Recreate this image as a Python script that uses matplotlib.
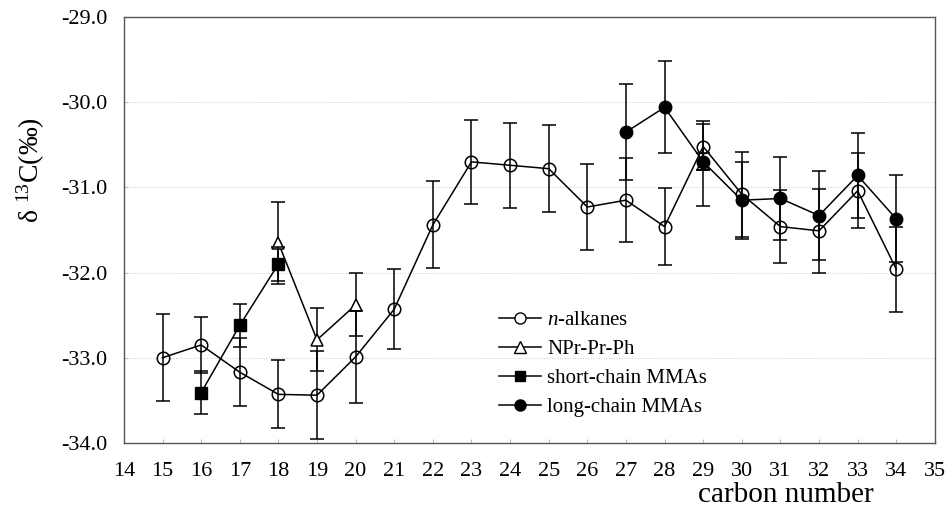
import numpy as np
import matplotlib
matplotlib.use('Agg')
import matplotlib.pyplot as plt
from matplotlib.lines import Line2D

plt.rcParams['font.family'] = ['Liberation Serif', 'DejaVu Serif']
plt.rcParams['mathtext.fontset'] = 'custom'
plt.rcParams['mathtext.rm'] = 'Liberation Serif'
plt.rcParams['mathtext.it'] = 'Liberation Serif:italic'

# n-alkanes
alk_c = [15, 16, 17, 18, 19, 20, 21, 22, 23, 24, 25, 26, 27, 28, 29, 30, 31, 32, 33, 34]
alk_v = [-33.00, -32.85, -33.17, -33.43, -33.44, -32.99, -32.43, -31.44, -30.70, -30.74,
         -30.78, -31.23, -31.15, -31.46, -30.52, -31.08, -31.46, -31.51, -31.04, -31.96]
alk_e = [0.51, 0.33, 0.40, 0.40, 0.52, 0.54, 0.47, 0.51, 0.49, 0.50,
         0.51, 0.50, 0.49, 0.45, 0.27, 0.50, 0.43, 0.49, 0.44, 0.50]
# NPr-Pr-Ph (gap between 20 and 29)
npr_c = [18, 19, 20, 21, 29]
npr_v = [-31.65, -32.79, -32.38, np.nan, -30.72]
npr_e = [0.48, 0.37, 0.37, np.nan, 0.50]
# short-chain MMAs
sc_c = [16, 17, 18]
sc_v = [-33.41, -32.62, -31.90]
sc_e = [0.25, 0.25, 0.20]
# long-chain MMAs
lc_c = [27, 28, 29, 30, 31, 32, 33, 34]
lc_v = [-30.35, -30.06, -30.70, -31.15, -31.13, -31.33, -30.86, -31.37]
lc_e = [0.56, 0.54, 0.10, 0.45, 0.49, 0.52, 0.50, 0.51]

fig = plt.figure(figsize=(9.53, 5.18), dpi=100)
ax = fig.add_axes([0.130, 0.145, 0.851, 0.822])

kw = dict(color='black', ecolor='black', elinewidth=1.1, capsize=5, capthick=1.1, lw=1.1)
ax.errorbar(npr_c, npr_v, yerr=npr_e, marker='^', ms=9, mfc='white', mec='black', mew=1.1,
            zorder=3, **kw)
ax.errorbar(sc_c, sc_v, yerr=sc_e, marker='s', ms=8, mfc='black', mec='black',
            zorder=4, **kw)
ax.errorbar(lc_c, lc_v, yerr=lc_e, marker='o', ms=9, mfc='black', mec='black',
            zorder=4, **kw)
ax.errorbar(alk_c, alk_v, yerr=alk_e, marker='o', ms=9, mfc='none', mec='black', mew=1.1,
            zorder=5, **kw)

ax.set_xlim(14, 35)
ax.set_ylim(-34, -29)
ax.set_xticks(range(14, 36))
ax.set_yticks(np.arange(-34, -28.9, 1.0))
ax.set_yticklabels(['%.1f' % v for v in np.arange(-34, -28.9, 1.0)])
ax.tick_params(axis='x', direction='in', length=3, color='#bbbbbb', labelsize=16, pad=14)
ax.tick_params(axis='y', direction='in', length=3, color='#bbbbbb', labelsize=16, pad=12)
ax.yaxis.grid(True, ls=':', lw=0.7, color='#cccccc')
for s in ax.spines.values():
    s.set_linewidth(1.0)
    s.set_color('#555555')

ax.set_ylabel('δ $^{13}$C(‰)', fontsize=20)
ax.yaxis.set_label_coords(-0.095, 0.64)
fig.text(0.825, 0.031, 'carbon number', fontsize=21, ha='center', va='baseline')

handles = [
    Line2D([], [], color='black', lw=1.1, marker='o', ms=8, mfc='white', mec='black'),
    Line2D([], [], color='black', lw=1.1, marker='^', ms=8, mfc='white', mec='black'),
    Line2D([], [], color='black', lw=1.1, marker='s', ms=7, mfc='black', mec='black'),
    Line2D([], [], color='black', lw=1.1, marker='o', ms=8, mfc='black', mec='black'),
]
labels = [r'$\it{n}$-alkanes', 'NPr-Pr-Ph', 'short-chain MMAs', 'long-chain MMAs']
ax.legend(handles, labels, loc='upper left',
          bbox_to_anchor=(0.44, 0.355), frameon=False, fontsize=15,
          handlelength=2.0, handletextpad=0.3, labelspacing=0.45)

plt.savefig('out.png', dpi=100)
